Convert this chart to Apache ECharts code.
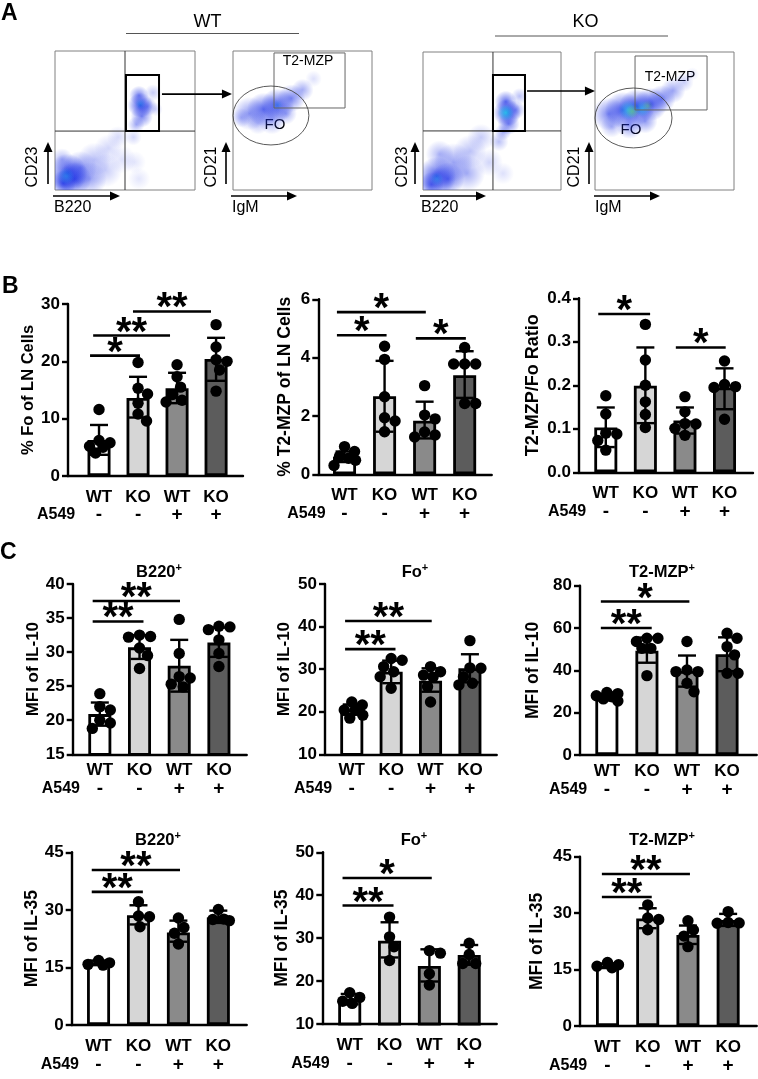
<!DOCTYPE html>
<html><head><meta charset="utf-8">
<script src="https://cdn.jsdelivr.net/npm/echarts/dist/echarts.min.js"></script>
<style>html,body{margin:0;padding:0;background:#fff}#c{width:758px;height:1079px}</style>
</head><body><div id="c"></div>
<script>
const FONT = '"Liberation Sans", Arial, sans-serif';

// ---------- categories ----------
const groupLabels = ['WT', 'KO', 'WT', 'KO'];
const a549Labels = ['-', '-', '+', '+'];

// ---------- Panel B ----------
const foTicks = [0, 10, 20, 30];
const foMean = [6.3, 13.6, 15.3, 20.4];
const foLow = [3.7, 10.2, 12.7, 16.6];
const foHigh = [8.9, 17.3, 18.0, 24.1];
const foDots = [[11.6, 6.2, 5.2, 5.8, 4.0, 5.0], [19.8, 15.3, 14.3, 12.7, 10.8, 9.6], [19.4, 17.3, 15.5, 14.2, 13.2, 12.9], [26.4, 22.5, 20.3, 20.0, 18.5, 14.8]];
const foSig = [[0.77, 2.05, 21.0, '*'], [0.85, 2.82, 24.5, '**'], [1.87, 3.87, 28.7, '**']];

const t2Ticks = [0, 2, 4, 6];
const t2Mean = [0.60, 2.68, 1.84, 3.40];
const t2Low = [0.42, 1.46, 1.23, 2.62];
const t2High = [0.78, 3.89, 2.49, 4.22];
const t2Dots = [[0.95, 0.78, 0.62, 0.55, 0.48, 0.30], [4.39, 3.94, 2.66, 1.94, 1.83, 1.46], [3.04, 2.03, 1.90, 1.45, 1.35, 1.28], [4.35, 3.78, 3.78, 3.78, 2.43, 2.43]];
const t2Sig = [[0.81, 2.05, 4.77, '*'], [0.81, 3.03, 5.56, '*'], [2.78, 4.03, 4.66, '*']];

const ratioTicks = [0, 0.1, 0.2, 0.3, 0.4];
const ratioMean = [0.103, 0.199, 0.119, 0.195];
const ratioLow = [0.058, 0.113, 0.089, 0.145];
const ratioHigh = [0.149, 0.287, 0.149, 0.239];
const ratioDots = [[0.176, 0.134, 0.090, 0.088, 0.073, 0.051], [0.340, 0.258, 0.200, 0.162, 0.133, 0.103], [0.174, 0.139, 0.111, 0.112, 0.101, 0.085], [0.256, 0.202, 0.197, 0.195, 0.122]];
const ratioSig = [[0.81, 2.12, 0.364, '*'], [2.77, 4.03, 0.287, '*']];

// ---------- Panel C, IL-10 ----------
const il10B220Ticks = [15, 20, 25, 30, 35, 40];
const il10B220Mean = [20.9, 30.7, 28.0, 31.4];
const il10B220Low = [19.2, 29.0, 24.2, 29.3];
const il10B220High = [22.6, 32.5, 31.8, 33.6];
const il10B220Dots = [[23.9, 22.0, 21.5, 20.0, 19.6, 18.8], [32.5, 32.3, 32.2, 30.6, 29.5, 27.6], [34.8, 29.8, 26.4, 26.2, 25.3, 24.9], [33.8, 33.7, 33.3, 31.8, 29.8, 27.9]];
const il10B220Sig = [[0.82, 2.10, 34.5, '**'], [0.82, 3.02, 37.5, '**']];

const il10FoTicks = [10, 20, 30, 40, 50];
const il10FoMean = [20.5, 29.4, 27.3, 30.2];
const il10FoLow = [19.3, 26.7, 24.7, 26.9];
const il10FoHigh = [21.7, 32.0, 30.2, 33.5];
const il10FoDots = [[22.3, 21.6, 20.4, 20.4, 19.2, 18.5], [32.5, 32.1, 30.6, 29.4, 28.2, 25.5], [30.6, 29.4, 28.6, 28.1, 25.9, 22.3], [36.7, 30.3, 30.2, 28.2, 26.7, 26.3]];
const il10FoSig = [[0.83, 2.11, 34.7, '**'], [0.83, 3.03, 41.3, '**']];

const il10T2Ticks = [0, 20, 40, 60, 80];
const il10T2Mean = [27.3, 49.3, 39.7, 47.6];
const il10T2Low = [25.8, 43.6, 32.3, 39.6];
const il10T2High = [28.8, 55.5, 47.0, 55.6];
const il10T2Dots = [[29.5, 29.0, 28.0, 27.5, 26.5, 25.5], [55.2, 55.2, 53.6, 50.4, 50.4, 37.5], [53.6, 40.2, 39.4, 39.4, 33.9, 29.9], [57.5, 55.2, 51.2, 47.3, 38.6, 38.6]];
const il10T2Sig = [[0.85, 2.12, 60.0, '**'], [0.85, 3.06, 72.5, '*']];

// ---------- Panel C, IL-35 ----------
const il35B220Ticks = [0, 15, 30, 45];
const il35B220Mean = [16.2, 28.6, 24.1, 28.0];
const il35B220Low = [15.6, 26.2, 21.7, 26.6];
const il35B220High = [16.8, 31.2, 27.2, 29.8];
const il35B220Dots = [[16.8, 16.2, 15.8, 15.6], [32.1, 28.4, 28.2, 25.6], [27.9, 25.4, 23.9, 21.1], [30.1, 27.6, 27.5, 27.2]];
const il35B220Sig = [[0.83, 2.11, 34.7, '**'], [0.83, 3.04, 40.4, '**']];

const il35FoTicks = [10, 20, 30, 40, 50];
const il35FoMean = [15.8, 29.4, 23.5, 26.1];
const il35FoLow = [14.6, 25.5, 19.9, 23.8];
const il35FoHigh = [17.0, 33.7, 27.4, 28.4];
const il35FoDots = [[17.3, 16.2, 15.3, 14.8], [34.9, 30.3, 28.0, 24.8], [27.1, 26.5, 21.7, 19.1], [28.8, 26.2, 24.1, 24.1]];
const il35FoSig = [[0.82, 2.10, 37.6, '**'], [0.82, 3.06, 44.0, '*']];

const il35T2Ticks = [0, 15, 30, 45];
const il35T2Mean = [16.0, 28.6, 24.2, 28.2];
const il35T2Low = [15.4, 26.0, 21.8, 26.6];
const il35T2High = [16.6, 31.3, 26.7, 29.8];
const il35T2Dots = [[16.9, 16.3, 15.9, 15.5], [32.2, 28.7, 28.3, 25.6], [28.0, 25.5, 23.9, 21.1], [30.4, 27.5, 27.3, 27.4]];
const il35T2Sig = [[0.86, 2.10, 34.3, '**'], [0.86, 3.05, 40.4, '**']];

// ---------- Panel A (flow plots, axis units 0-100) : [x, y, spread, density] ----------
const wt1Cloud = [[9, 12, 14, 0.9], [14, 8, 12, 0.8], [6, 5, 9, 0.8], [18, 16, 12, 0.5], [25, 8, 12, 0.45], [28, 22, 12, 0.3], [36, 14, 12, 0.25], [38, 30, 10, 0.2], [45, 38, 8, 0.18], [48, 22, 10, 0.15], [57, 20, 8, 0.12], [60, 8, 8, 0.12], [5, 22, 8, 0.35],
  [61, 61, 9, 0.9], [60, 68, 7, 0.6], [62, 53, 8, 0.6], [66, 60, 7, 0.5], [58, 47, 6, 0.4], [70, 70, 6, 0.25], [56, 38, 6, 0.2], [72, 58, 5, 0.2]];
const wt1Core = [[8, 10, 6, 0.5], [61, 62, 4, 0.4]];
const wt2Cloud = [[12, 55, 12, 0.5], [22, 58, 12, 0.7], [32, 61, 12, 0.8], [42, 66, 10, 0.6], [50, 72, 8, 0.4], [28, 50, 10, 0.4], [18, 48, 8, 0.3], [6, 52, 7, 0.3], [58, 80, 6, 0.15], [38, 55, 8, 0.4]];
const wt2Core = [[32, 61, 4, 0.3]];
const ko1Cloud = [[10, 10, 14, 0.85], [18, 8, 12, 0.7], [6, 4, 9, 0.7], [22, 20, 14, 0.45], [32, 12, 13, 0.4], [34, 28, 12, 0.3], [42, 38, 10, 0.25], [12, 26, 10, 0.35], [48, 20, 10, 0.2], [58, 12, 8, 0.15], [55, 35, 7, 0.3],
  [61, 56, 10, 0.95], [60, 64, 8, 0.7], [62, 48, 8, 0.6], [67, 58, 7, 0.5], [70, 68, 6, 0.3], [58, 42, 6, 0.4]];
const ko1Core = [[60, 56, 6, 0.9], [10, 8, 5, 0.35]];
const ko2Cloud = [[10, 55, 12, 0.6], [20, 58, 13, 0.8], [30, 60, 13, 0.9], [40, 62, 12, 0.8], [48, 66, 10, 0.6], [56, 72, 9, 0.45], [64, 78, 7, 0.25], [25, 47, 10, 0.5], [36, 50, 9, 0.5], [12, 46, 8, 0.35], [70, 84, 5, 0.12]];
const ko2Core = [[24, 58, 7, 0.7], [34, 59, 6, 0.6]];
const ko2Green = [[27, 57, 5, 0.5], [38, 61, 4, 0.4]];

// gates: quadrant [x, y]; gate rect [x1, y1, x2, y2]; ellipse [cx, cy, rx, ry]; arrow [x1, x2, y]
const wt1Quad = [50, 42.4];
const wt1Gate = [50.7, 42.4, 74.3, 82.7];
const wt1Arrow = [76.4, 126.4, 69];
const wt2Gate = [29.5, 59, 80.6, 98.6];
const wt2Ellipse = [27.3, 53.6, 27.3, 21.2];
const ko1Quad = [50.7, 42.8];
const ko1Gate = [50.7, 42.8, 73.9, 83.3];
const ko1Arrow = [75.4, 124.6, 71.7];
const ko2Gate = [28.8, 58, 80.6, 97.1];
const ko2Ellipse = [27.7, 52.2, 27.7, 21.7];

// ---------- assembly ----------
const barPanels = [
  {ticks: foTicks, mean: foMean, low: foLow, high: foHigh, dots: foDots, sig: foSig, yName: '% Fo of LN Cells', dec: 0},
  {ticks: t2Ticks, mean: t2Mean, low: t2Low, high: t2High, dots: t2Dots, sig: t2Sig, yName: '% T2-MZP of LN Cells', dec: 0},
  {ticks: ratioTicks, mean: ratioMean, low: ratioLow, high: ratioHigh, dots: ratioDots, sig: ratioSig, yName: 'T2-MZP/Fo Ratio', dec: 1},
  {ticks: il10B220Ticks, mean: il10B220Mean, low: il10B220Low, high: il10B220High, dots: il10B220Dots, sig: il10B220Sig, yName: 'MFI of IL-10', dec: 0},
  {ticks: il10FoTicks, mean: il10FoMean, low: il10FoLow, high: il10FoHigh, dots: il10FoDots, sig: il10FoSig, yName: 'MFI of IL-10', dec: 0},
  {ticks: il10T2Ticks, mean: il10T2Mean, low: il10T2Low, high: il10T2High, dots: il10T2Dots, sig: il10T2Sig, yName: 'MFI of IL-10', dec: 0},
  {ticks: il35B220Ticks, mean: il35B220Mean, low: il35B220Low, high: il35B220High, dots: il35B220Dots, sig: il35B220Sig, yName: 'MFI of IL-35', dec: 0},
  {ticks: il35FoTicks, mean: il35FoMean, low: il35FoLow, high: il35FoHigh, dots: il35FoDots, sig: il35FoSig, yName: 'MFI of IL-35', dec: 0},
  {ticks: il35T2Ticks, mean: il35T2Mean, low: il35T2Low, high: il35T2High, dots: il35T2Dots, sig: il35T2Sig, yName: 'MFI of IL-35', dec: 0}
];
const barLayouts = [
  {left: 68, top: 304, width: 175, height: 172, xMin: 0.205, xMax: 4.69, nameGap: 24, nameSize: 16.5, catGap: 21, rowGap: 39},
  {left: 318.3, top: 299.3, width: 173.4, height: 175, xMin: 0.345, xMax: 4.675, nameGap: 24, nameSize: 17.5, catGap: 21, rowGap: 39},
  {left: 579, top: 298.3, width: 174, height: 174, xMin: 0.323, xMax: 4.72, nameGap: 37, nameSize: 18, catGap: 21, rowGap: 39},
  {left: 72.7, top: 584, width: 174, height: 170.3, xMin: 0.317, xMax: 4.70, nameGap: 30, nameSize: 17, catGap: 16.5, rowGap: 34.5},
  {left: 325, top: 584, width: 171.7, height: 170.3, xMin: 0.32, xMax: 4.68, nameGap: 32.5, nameSize: 17, catGap: 16.5, rowGap: 34.5},
  {left: 580, top: 585.7, width: 176.7, height: 169.3, xMin: 0.33, xMax: 4.74, nameGap: 37.5, nameSize: 17.5, catGap: 16.5, rowGap: 34.5},
  {left: 71.7, top: 852.3, width: 175, height: 172.7, xMin: 0.328, xMax: 4.71, nameGap: 31, nameSize: 17.5, catGap: 21.7, rowGap: 40},
  {left: 322.3, top: 852.3, width: 174.4, height: 171.7, xMin: 0.312, xMax: 4.69, nameGap: 31.5, nameSize: 17.5, catGap: 21.7, rowGap: 40},
  {left: 580, top: 856.7, width: 176.7, height: 169.3, xMin: 0.316, xMax: 4.71, nameGap: 34, nameSize: 17.5, catGap: 21.7, rowGap: 40}
];
const barFill = ['#ffffff', '#d6d6d6', '#8a8a8a', '#5c5c5c'];

const option = {animation: false, backgroundColor: '#ffffff', grid: [], xAxis: [], yAxis: [], series: [], graphic: []};

function txt(x, y, s, font, align, vAlign, extra) {
  return Object.assign({type: 'text', x: x, y: y, silent: true,
    style: {text: s, font: font, fill: '#000', align: align || 'center', verticalAlign: vAlign || 'middle', textAlign: align || 'center', textVerticalAlign: vAlign || 'middle'}}, extra || {});
}
function seg(a, b, color, w) {
  return {type: 'line', shape: {x1: a[0], y1: a[1], x2: b[0], y2: b[1]}, style: {stroke: color, lineWidth: w}};
}

function addBarPanel(p, L) {
  const g = option.grid.length;
  const yMin = p.ticks[0], yMax = p.ticks[p.ticks.length - 1];
  option.grid.push({left: L.left, top: L.top, width: L.width, height: L.height});
  option.xAxis.push({gridIndex: g, type: 'value', min: L.xMin, max: L.xMax,
    axisLine: {show: true, onZero: false, lineStyle: {color: '#000', width: 2.4}},
    axisTick: {show: false}, axisLabel: {show: false}, splitLine: {show: false}});
  option.yAxis.push({gridIndex: g, type: 'value', min: yMin, max: yMax, interval: p.ticks[1] - p.ticks[0],
    axisLine: {show: true, lineStyle: {color: '#000', width: 2.4}},
    axisTick: {show: true, length: 6, lineStyle: {color: '#000', width: 2.4}},
    axisLabel: {color: '#000', fontFamily: FONT, fontWeight: 'bold', fontSize: 17, margin: 8,
      formatter: v => Number(v).toFixed(p.dec)},
    splitLine: {show: false},
    name: p.yName, nameLocation: 'middle', nameGap: L.nameGap,
    nameTextStyle: {color: '#000', fontFamily: FONT, fontWeight: 'bold', fontSize: L.nameSize}});
  // bars
  option.series.push({type: 'bar', xAxisIndex: g, yAxisIndex: g, barWidth: 23, z: 2, silent: true,
    itemStyle: {borderColor: '#000', borderWidth: 2.8},
    data: p.mean.map((v, j) => ({value: [j + 1, v], itemStyle: {color: barFill[j]}}))});
  // error bars
  option.series.push({type: 'custom', xAxisIndex: g, yAxisIndex: g, z: 3, silent: true,
    data: p.mean.map((v, j) => [j + 1, p.low[j], p.high[j], v]),
    encode: {x: 0, y: [1, 2]},
    renderItem: (params, api) => {
      const a = api.coord([api.value(0), api.value(1)]);
      const b = api.coord([api.value(0), api.value(2)]);
      const cw = 9;
      return {type: 'group', children: [
        seg(a, b, '#000', 2.4),
        seg([a[0] - cw, a[1]], [a[0] + cw, a[1]], '#000', 2.4),
        seg([b[0] - cw, b[1]], [b[0] + cw, b[1]], '#000', 2.4)]};
    }});
  // dots (beeswarm)
  option.series.push({type: 'custom', xAxisIndex: g, yAxisIndex: g, z: 4, silent: true,
    data: p.mean.map((v, j) => [j + 1, v]),
    encode: {x: 0, y: 1},
    renderItem: (params, api) => {
      const j = params.dataIndex, x = api.value(0), vals = p.dots[j], r = 5.7;
      const pts = vals.map(v => api.coord([x, v]));
      const order = vals.map((v, i) => i).sort((a, b) => vals[b] - vals[a]);
      const placed = [];
      const d = 2 * r * 0.95;
      order.forEach(i => {
        const cx = pts[i][0], cy = pts[i][1];
        let chosen = null, best = -1, bestOff = 0;
        for (let k = 0; k <= 44; k++) {
          const step = Math.ceil(k / 2) * 0.5;
          const off = (k % 2 ? step : -step);
          let minD = Infinity;
          placed.forEach(q => { const dd = Math.hypot(cx + off - q[0], cy - q[1]); if (dd < minD) minD = dd; });
          if (minD >= d) { chosen = off; break; }
          if (minD > best) { best = minD; bestOff = off; }
        }
        if (chosen === null) chosen = bestOff;
        placed.push([cx + chosen, cy]);
      });
      return {type: 'group', children: placed.map(q => ({type: 'circle', shape: {cx: q[0], cy: q[1], r: r}, style: {fill: '#000'}}))};
    }});
  // significance brackets
  option.series.push({type: 'custom', xAxisIndex: g, yAxisIndex: g, z: 5, silent: true, clip: false,
    data: p.sig.map(s => [s[0], s[1], s[2]]),
    encode: {x: [0, 1], y: 2},
    renderItem: (params, api) => {
      const a = api.coord([api.value(0), api.value(2)]);
      const b = api.coord([api.value(1), api.value(2)]);
      const star = p.sig[params.dataIndex][3];
      return {type: 'group', children: [
        seg(a, b, '#000', 2.6),
        txt((a[0] + b[0]) / 2, a[1] - 2, star, 'bold 40px ' + FONT, 'center', 'middle')]};
    }});
  // category labels
  option.series.push({type: 'custom', xAxisIndex: g, yAxisIndex: g, z: 5, silent: true, clip: false,
    data: groupLabels.map((s, j) => [j + 1, yMin]),
    encode: {x: 0, y: 1},
    renderItem: (params, api) => {
      const j = params.dataIndex;
      const pt = api.coord([api.value(0), api.value(1)]);
      const ch = [
        txt(pt[0], pt[1] + L.catGap, groupLabels[j], 'bold 17px ' + FONT),
        txt(pt[0], pt[1] + L.rowGap, a549Labels[j], 'bold 19px ' + FONT)];
      if (j === 0) {
        const o = api.coord([L.xMin, yMin]);
        ch.push(txt(o[0] - 31, pt[1] + L.rowGap, 'A549', 'bold 16px ' + FONT, 'left', 'middle'));
      }
      return {type: 'group', children: ch};
    }});
}
barPanels.forEach((p, i) => addBarPanel(p, barLayouts[i]));

// ---------- flow plots ----------
const flowLayouts = [
  {left: 55, top: 51, width: 140, height: 139},
  {left: 233, top: 51, width: 139, height: 139},
  {left: 423, top: 52, width: 138, height: 138},
  {left: 595, top: 52, width: 139, height: 138}
];
const flowSpecs = [
  {clouds: [[wt1Cloud, '30,50,230'], [wt1Core, '40,170,235']], quad: wt1Quad, gate: wt1Gate, gateColor: '#000', gateWidth: 2, arrow: wt1Arrow},
  {clouds: [[wt2Cloud, '30,50,230'], [wt2Core, '40,170,235']], gate: wt2Gate, gateColor: '#666', gateWidth: 1, ellipse: wt2Ellipse},
  {clouds: [[ko1Cloud, '30,50,230'], [ko1Core, '40,200,235']], quad: ko1Quad, gate: ko1Gate, gateColor: '#000', gateWidth: 2, arrow: ko1Arrow},
  {clouds: [[ko2Cloud, '30,50,230'], [ko2Core, '40,200,235'], [ko2Green, '110,220,90']], gate: ko2Gate, gateColor: '#666', gateWidth: 1, ellipse: ko2Ellipse}
];
flowLayouts.forEach((L, i) => {
  const g = option.grid.length;
  const spec = flowSpecs[i];
  option.grid.push({left: L.left, top: L.top, width: L.width, height: L.height, show: true, borderColor: '#808080', borderWidth: 1, backgroundColor: 'transparent'});
  option.xAxis.push({gridIndex: g, type: 'value', min: 0, max: 100, show: false});
  option.yAxis.push({gridIndex: g, type: 'value', min: 0, max: 100, show: false});
  spec.clouds.forEach(([arr, rgb]) => {
    option.series.push({type: 'custom', xAxisIndex: g, yAxisIndex: g, clip: true, silent: true, z: 2,
      data: arr, encode: {x: 0, y: 1},
      renderItem: (params, api) => {
        const c = api.coord([api.value(0), api.value(1)]);
        const r = api.size([api.value(2), api.value(2)])[0];
        const a = api.value(3);
        return {type: 'circle', shape: {cx: c[0], cy: c[1], r: r},
          style: {fill: {type: 'radial', x: 0.5, y: 0.5, r: 0.5,
            colorStops: [{offset: 0, color: 'rgba(' + rgb + ',' + a + ')'}, {offset: 1, color: 'rgba(' + rgb + ',0)'}]}}};
      }});
  });
  option.series.push({type: 'custom', xAxisIndex: g, yAxisIndex: g, clip: false, silent: true, z: 6,
    data: [[50, 50]], encode: {x: 0, y: 1},
    renderItem: (params, api) => {
      const P = (x, y) => api.coord([x, y]);
      const ch = [];
      if (spec.quad) {
        ch.push(seg(P(spec.quad[0], 0), P(spec.quad[0], 100), '#333', 1));
        ch.push(seg(P(0, spec.quad[1]), P(100, spec.quad[1]), '#333', 1));
      }
      if (spec.gate) {
        const a = P(spec.gate[0], spec.gate[3]), b = P(spec.gate[2], spec.gate[1]);
        ch.push({type: 'rect', shape: {x: a[0], y: a[1], width: b[0] - a[0], height: b[1] - a[1]},
          style: {fill: 'none', stroke: spec.gateColor, lineWidth: spec.gateWidth}});
      }
      if (spec.ellipse) {
        const c = P(spec.ellipse[0], spec.ellipse[1]);
        const s = api.size([spec.ellipse[2], spec.ellipse[3]]);
        ch.push({type: 'circle', x: c[0], y: c[1], scaleY: s[1] / s[0], shape: {cx: 0, cy: 0, r: s[0]},
          style: {fill: 'none', stroke: '#444', lineWidth: 1, strokeNoScale: true}});
      }
      if (spec.arrow) {
        const a = P(spec.arrow[0], spec.arrow[2]), b = P(spec.arrow[1], spec.arrow[2]);
        ch.push(seg(a, [b[0] - 6, b[1]], '#000', 1.6));
        ch.push({type: 'polygon', shape: {points: [[b[0], b[1]], [b[0] - 10, b[1] - 4.5], [b[0] - 10, b[1] + 4.5]]}, style: {fill: '#000'}});
      }
      return {type: 'group', children: ch};
    }});
});

// ---------- annotation text & decorations ----------
const G = option.graphic;
const reg16 = '16px ' + FONT;
G.push(txt(1, 14, 'A', 'bold 23px ' + FONT, 'left'));
G.push(txt(2, 287, 'B', 'bold 23px ' + FONT, 'left'));
G.push(txt(0, 553, 'C', 'bold 23px ' + FONT, 'left'));
G.push(txt(207.5, 22.5, 'WT', '18px ' + FONT));
G.push(seg([126, 33.5], [299, 33.5], '#555', 1));
G.push(txt(585.5, 22, 'KO', '18px ' + FONT));
G.push(seg([495, 36], [668, 36], '#555', 1));
function vArrow(x) { G.push(seg([x, 184], [x, 149], '#000', 1.6)); G.push({type: 'polygon', shape: {points: [[x, 142], [x - 4.5, 152], [x + 4.5, 152]]}, style: {fill: '#000'}}); }
function hArrow(x1, x2) { G.push(seg([x1, 196], [x2 - 6, 196], '#000', 1.6)); G.push({type: 'polygon', shape: {points: [[x2, 196], [x2 - 10, 191.5], [x2 - 10, 200.5]]}, style: {fill: '#000'}}); }
[[33, 48, 'CD23', 54, 120, 'B220'], [212, 226, 'CD21', 232, 297, 'IgM'], [403, 415, 'CD23', 421, 486, 'B220'], [575, 589, 'CD21', 595, 660, 'IgM']].forEach(a => {
  G.push(txt(a[0], 167, a[2], reg16, 'center', 'middle', {rotation: Math.PI / 2}));
  vArrow(a[1]);
  hArrow(a[3] - 1, a[4]);
  G.push(txt(a[3], 208, a[5], reg16, 'left'));
});
G.push(txt(308, 61, 'T2-MZP', '14px ' + FONT));
G.push(txt(275, 125, 'FO', '15px ' + FONT));
G.push(txt(670, 77, 'T2-MZP', '14px ' + FONT));
G.push(txt(631, 130, 'FO', '15px ' + FONT));
// C titles with superscript
function supTitle(x, y, base) {
  G.push({type: 'text', x: x, y: y, silent: true, style: {text: '{b|' + base + '}{s|+}', align: 'center', verticalAlign: 'middle', textAlign: 'center', textVerticalAlign: 'middle',
    rich: {b: {fontFamily: FONT, fontWeight: 'bold', fontSize: 16.5, lineHeight: 20, fill: '#000', color: '#000'},
           s: {fontFamily: FONT, fontWeight: 'bold', fontSize: 11, lineHeight: 20, verticalAlign: 'top', padding: [0, 0, 8, 0], fill: '#000', color: '#000'}}}});
}
supTitle(159, 572, 'B220'); supTitle(415, 572, 'Fo'); supTitle(662, 572, 'T2-MZP');
supTitle(158, 840, 'B220'); supTitle(414, 840, 'Fo'); supTitle(662, 840, 'T2-MZP');

const chart = echarts.init(document.getElementById('c'), null, {renderer: 'canvas', width: 758, height: 1079});
chart.setOption(option);
</script></body></html>
